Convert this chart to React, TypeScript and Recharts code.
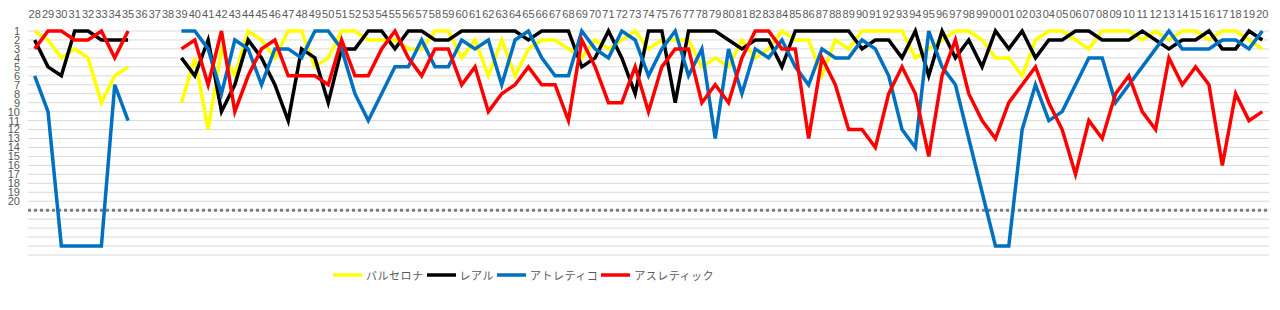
import { LineChart, Line, XAxis, YAxis, CartesianGrid, ReferenceLine, Legend } from 'recharts'

// season start years, '28' = 1928-29 ... '20' = 2020-21
const seasons = [
  '28', '29', '30', '31', '32', '33', '34', '35', '36', '37', '38', '39',
  '40', '41', '42', '43', '44', '45', '46', '47', '48', '49',
  '50', '51', '52', '53', '54', '55', '56', '57', '58', '59',
  '60', '61', '62', '63', '64', '65', '66', '67', '68', '69',
  '70', '71', '72', '73', '74', '75', '76', '77', '78', '79',
  '80', '81', '82', '83', '84', '85', '86', '87', '88', '89',
  '90', '91', '92', '93', '94', '95', '96', '97', '98', '99',
  '00', '01', '02', '03', '04', '05', '06', '07', '08', '09',
  '10', '11', '12', '13', '14', '15', '16', '17', '18', '19', '20',
]

// final league position (25 = second division, null = no league)
const barcelona = [
  1, 2, 4, 3, 4, 9, 6, 5, null, null, null,
  9, 4, 12, 3, 6, 1, 2, 4, 1, 1, 5, 4, 1, 1, 2, 2, 2, 3, 3,
  1, 1, 4, 2, 6, 2, 6, 3, 2, 2, 3, 4, 2, 3, 2, 1, 3, 2,
  2, 2, 5, 4, 5, 2, 4, 3, 1, 2, 2, 6, 2, 3, 1, 1, 1, 1,
  4, 3, 2, 1, 1, 2, 4, 4, 6, 2, 1, 1, 2, 3,
  1, 1, 1, 2, 1, 2, 1, 1, 2, 1, 1, 2, 3,
]
const real = [
  2, 5, 6, 1, 1, 2, 2, 2, null, null, null,
  4, 6, 2, 10, 7, 2, 4, 7, 11, 3, 4, 9, 3, 3, 1, 1, 3, 1, 1,
  2, 2, 1, 1, 1, 1, 1, 2, 1, 1, 1, 5, 4, 1, 4, 8, 1, 1,
  9, 1, 1, 1, 2, 3, 2, 2, 5, 1, 1, 1, 1, 1, 3, 2, 2, 4,
  1, 6, 1, 4, 2, 5, 1, 3, 1, 4, 2, 2, 1, 1,
  2, 2, 2, 1, 2, 3, 2, 2, 1, 3, 3, 1, 2,
]
const atletico = [
  6, 10, 25, 25, 25, 25, 7, 11, null, null, null,
  1, 1, 3, 8, 2, 3, 7, 3, 3, 4, 1, 1, 3, 8, 11, 8, 5, 5, 2,
  5, 5, 2, 3, 2, 7, 2, 1, 4, 6, 6, 1, 3, 4, 1, 2, 6, 3,
  1, 6, 3, 13, 3, 8, 3, 4, 2, 5, 7, 3, 4, 4, 2, 3, 6, 12,
  14, 1, 5, 7, 13, 19, 25, 25, 12, 7, 11, 10, 7, 4,
  4, 9, 7, 5, 3, 1, 3, 3, 3, 2, 2, 3, 1,
]
const athletic = [
  3, 1, 1, 2, 2, 1, 4, 1, null, null, null,
  3, 2, 7, 1, 10, 6, 3, 2, 6, 6, 6, 7, 2, 6, 6, 3, 1, 4, 6,
  3, 3, 7, 5, 10, 8, 7, 5, 7, 7, 11, 2, 5, 9, 9, 5, 10, 5,
  3, 3, 9, 7, 9, 4, 1, 1, 3, 3, 13, 4, 7, 12, 12, 14, 8, 5,
  8, 15, 6, 2, 8, 11, 13, 9, 7, 5, 9, 12, 17, 11,
  13, 8, 6, 10, 12, 4, 7, 5, 7, 16, 8, 11, 10,
]

const positionTicks = [1, 2, 3, 4, 5, 6, 7, 8, 9, 10, 11, 12, 13, 14, 15, 16, 17, 18, 19, 20, 21, 22, 23, 24, 25, 26]
const relegationLine = 21

const series = [
  { key: 'barcelona', name: 'バルセロナ', color: '#ffff00' },
  { key: 'real', name: 'レアル', color: '#000000' },
  { key: 'atletico', name: 'アトレティコ', color: '#0070c0' },
  { key: 'athletic', name: 'アスレティック', color: '#ff0000' },
]

const data = seasons.map((s, i) => ({
  idx: i,
  season: s,
  barcelona: barcelona[i],
  real: real[i],
  atletico: atletico[i],
  athletic: athletic[i],
}))

const tickStyle = { fontSize: 11, fill: '#595959', fontFamily: '"Liberation Sans", Arial, sans-serif' }

function LegendContent() {
  return (
    <div
      style={{
        display: 'flex',
        alignItems: 'center',
        fontFamily: '"Noto Sans CJK JP", sans-serif',
        fontSize: 11,
        color: '#595959',
        letterSpacing: 0.5,
        whiteSpace: 'nowrap',
      }}
    >
      {series.map((s) => (
        <div key={s.key} style={{ display: 'flex', alignItems: 'center', marginRight: 3 }}>
          <svg width={29} height={6}>
            <line x1={0} y1={3} x2={29} y2={3} stroke={s.color} strokeWidth={3.5} />
          </svg>
          <span style={{ marginLeft: 4 }}>{s.name}</span>
        </div>
      ))}
    </div>
  )
}

export default function App() {
  return (
    <div style={{ position: 'absolute', left: 0, top: 0, width: 1280, height: 310, background: '#fff' }}>
      <LineChart width={1280} height={310} data={data} margin={{ top: 9, right: 11, bottom: 55, left: 0 }}>
        <CartesianGrid vertical={false} stroke="#d9d9d9" />
        <XAxis
          dataKey="idx"
          type="number"
          orientation="top"
          domain={[-0.5, seasons.length - 0.5]}
          ticks={data.map((d) => d.idx)}
          interval={0}
          tickFormatter={(i: number) => seasons[i]}
          tick={tickStyle}
          tickLine={false}
          axisLine={false}
          tickMargin={7}
          height={22}
        />
        <YAxis
          type="number"
          reversed
          domain={[1, 26]}
          ticks={positionTicks}
          interval={0}
          tickFormatter={(v: number) => (v <= 20 ? String(v) : '')}
          tick={tickStyle}
          tickLine={false}
          axisLine={false}
          width={28}
        />
        <ReferenceLine y={relegationLine} stroke="#7f7f7f" strokeWidth={3} strokeDasharray="3 3" />
        {series.map((s) => (
          <Line
            key={s.key}
            type="linear"
            dataKey={s.key}
            name={s.name}
            stroke={s.color}
            strokeWidth={3.5}
            dot={false}
            activeDot={false}
            connectNulls={false}
            isAnimationActive={false}
          />
        ))}
        <Legend
          verticalAlign="middle"
          align="center"
          content={<LegendContent />}
          wrapperStyle={{ left: 333, top: 267, width: 'auto', height: 'auto' }}
        />
      </LineChart>
    </div>
  )
}
